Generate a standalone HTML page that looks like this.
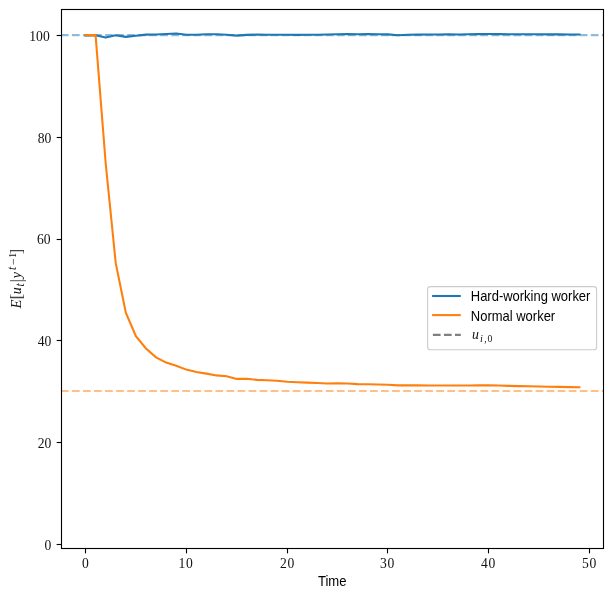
<!DOCTYPE html>
<html><head><meta charset="utf-8"><title>Plot</title><style>html,body{margin:0;padding:0;background:#fff}svg{display:block;will-change:transform}</style></head><body>
<svg width="613" height="598" viewBox="0 0 613 598">
<rect width="613" height="598" fill="#fff"/>
<defs><clipPath id="c"><rect x="61.5" y="9.5" width="542.0" height="539.0"/></clipPath></defs>
<g clip-path="url(#c)" fill="none" stroke-linejoin="round">
<polyline points="85.50,35.35 95.58,35.35 105.66,37.45 115.74,35.25 125.82,36.85 135.90,35.75 145.98,34.65 156.06,34.45 166.14,34.05 176.22,33.45 186.30,34.70 196.38,34.70 206.46,34.30 216.54,34.30 226.62,34.80 236.70,35.60 246.78,34.90 256.86,34.60 266.94,34.80 277.02,34.70 287.10,34.80 297.18,34.90 307.26,34.80 317.34,34.70 327.42,34.50 337.50,34.20 347.58,34.10 357.66,34.20 367.74,34.10 377.82,34.30 387.90,34.40 397.98,35.20 408.06,34.80 418.14,34.60 428.22,34.50 438.30,34.50 448.38,34.40 458.46,34.50 468.54,34.30 478.62,34.10 488.70,34.00 498.78,34.10 508.86,34.20 518.94,34.20 529.02,34.30 539.10,34.30 549.18,34.40 559.26,34.40 569.34,34.50 579.42,34.50" stroke="#1f77b4" stroke-width="2.08" stroke-linecap="square"/>
<line x1="60.9" x2="603.5" y1="35.10" y2="35.10" stroke="#1f77b4" stroke-opacity="0.5" stroke-width="2.08" stroke-dasharray="7.71 3.33"/>
<polyline points="85.50,35.10 95.58,35.10 105.66,163.00 115.74,263.20 125.82,312.70 135.90,336.20 145.98,348.50 156.06,357.30 166.14,362.60 176.22,365.80 186.30,369.60 196.38,372.00 206.46,373.60 216.54,375.40 226.62,376.30 236.70,378.90 246.78,378.80 256.86,379.90 266.94,380.30 277.02,380.70 287.10,381.80 297.18,382.20 307.26,382.60 317.34,383.00 327.42,383.50 337.50,383.20 347.58,383.50 357.66,384.10 367.74,384.30 377.82,384.50 387.90,384.70 397.98,385.40 408.06,385.40 418.14,385.40 428.22,385.50 438.30,385.50 448.38,385.50 458.46,385.50 468.54,385.50 478.62,385.40 488.70,385.40 498.78,385.50 508.86,385.90 518.94,386.10 529.02,386.30 539.10,386.50 549.18,386.70 559.26,386.90 569.34,387.10 579.42,387.30" stroke="#ff7f0e" stroke-width="2.08" stroke-linecap="square" stroke-linejoin="miter"/>
<line x1="60.9" x2="603.5" y1="391.00" y2="391.00" stroke="#ff7f0e" stroke-opacity="0.5" stroke-width="2.08" stroke-dasharray="7.71 3.33"/>
</g>
<rect x="61.5" y="9.5" width="542.0" height="539.0" fill="none" stroke="#000" stroke-width="1.11"/>
<g stroke="#000" stroke-width="1.11">
<line x1="56.64" x2="61.5" y1="544.5" y2="544.5"/>
<line x1="56.64" x2="61.5" y1="442.5" y2="442.5"/>
<line x1="56.64" x2="61.5" y1="340.5" y2="340.5"/>
<line x1="56.64" x2="61.5" y1="239.5" y2="239.5"/>
<line x1="56.64" x2="61.5" y1="137.5" y2="137.5"/>
<line x1="56.64" x2="61.5" y1="35.5" y2="35.5"/>
<line x1="85.5" x2="85.5" y1="548.5" y2="553.36"/>
<line x1="186.5" x2="186.5" y1="548.5" y2="553.36"/>
<line x1="287.5" x2="287.5" y1="548.5" y2="553.36"/>
<line x1="387.5" x2="387.5" y1="548.5" y2="553.36"/>
<line x1="488.5" x2="488.5" y1="548.5" y2="553.36"/>
<line x1="589.5" x2="589.5" y1="548.5" y2="553.36"/>
</g>
<g font-family="'Liberation Serif', serif" font-size="13.6" fill="#111">
<text x="51.3" y="550.0" text-anchor="end">0</text>
<text x="51.3" y="448.0" text-anchor="end">20</text>
<text x="51.3" y="346.0" text-anchor="end">40</text>
<text x="50.6" y="244.0" text-anchor="end">60</text>
<text x="51.3" y="143.0" text-anchor="end">80</text>
<text x="49.7" y="40.8" text-anchor="end">100</text>
<text x="85.50" y="567.7" text-anchor="middle" letter-spacing="0">0</text>
<text x="186.00" y="567.7" text-anchor="middle" letter-spacing="0.6">10</text>
<text x="287.50" y="567.7" text-anchor="middle" letter-spacing="0.6">20</text>
<text x="387.50" y="567.7" text-anchor="middle" letter-spacing="0.6">30</text>
<text x="488.50" y="567.7" text-anchor="middle" letter-spacing="0.6">40</text>
<text x="589.50" y="567.7" text-anchor="middle" letter-spacing="0.6">50</text>
</g>
<text x="332.2" y="586.3" text-anchor="middle" font-family="'Liberation Sans', sans-serif" font-size="14.3" fill="#000" textLength="28.6" lengthAdjust="spacingAndGlyphs">Time</text>
<text transform="translate(21.4 308.6) rotate(-90)" font-family="'Liberation Serif', serif" font-size="14" fill="#111"><tspan x="0.0" y="0" font-style="italic" font-size="14.6">E</tspan><tspan x="9.0" y="0.9" font-size="17.6" fill="#444">[</tspan><tspan x="14.3" y="0" font-style="italic">u</tspan><tspan x="22.2" y="2.5" font-style="italic" font-size="11.5">t</tspan><tspan x="26.2" y="0.9" font-size="17.6" fill="#444">|</tspan><tspan x="30.4" y="0" font-style="italic">y</tspan><tspan x="38.6" y="-5.3" font-style="italic" font-size="11.5">t</tspan><tspan x="43.6" y="-4.9" font-size="12">−</tspan><tspan x="50.7" y="-5.3" font-size="10.5">1</tspan><tspan x="54.0" y="0.9" font-size="17.6" fill="#444">]</tspan></text>
<rect x="427.6" y="286.6" width="169" height="63.2" rx="2.8" fill="#fff" fill-opacity="0.8" stroke="#ccc" stroke-width="1.11"/>
<line x1="432.1" x2="460.8" y1="296.0" y2="296.0" stroke="#1f77b4" stroke-width="2.08"/>
<line x1="432.1" x2="460.8" y1="315.1" y2="315.1" stroke="#ff7f0e" stroke-width="2.08"/>
<line x1="432.9" x2="460.8" y1="334.9" y2="334.9" stroke="#808080" stroke-width="2.08" stroke-dasharray="7.71 3.33"/>
<g font-family="'Liberation Sans', sans-serif" font-size="14.3" fill="#000">
<text x="470.8" y="301.0" textLength="119.6" lengthAdjust="spacingAndGlyphs">Hard-working worker</text>
<text x="470.8" y="320.5" textLength="84.4" lengthAdjust="spacingAndGlyphs">Normal worker</text>
</g>
<text x="472" y="338.7" font-family="'Liberation Serif', serif" font-size="13.8" fill="#111"><tspan font-style="italic">u</tspan><tspan font-size="9.7" y="342.3"><tspan font-style="italic" x="480.0" font-size="10.5">i</tspan><tspan x="484.2">,</tspan><tspan x="487.4">0</tspan></tspan></text>
</svg>
</body></html>
